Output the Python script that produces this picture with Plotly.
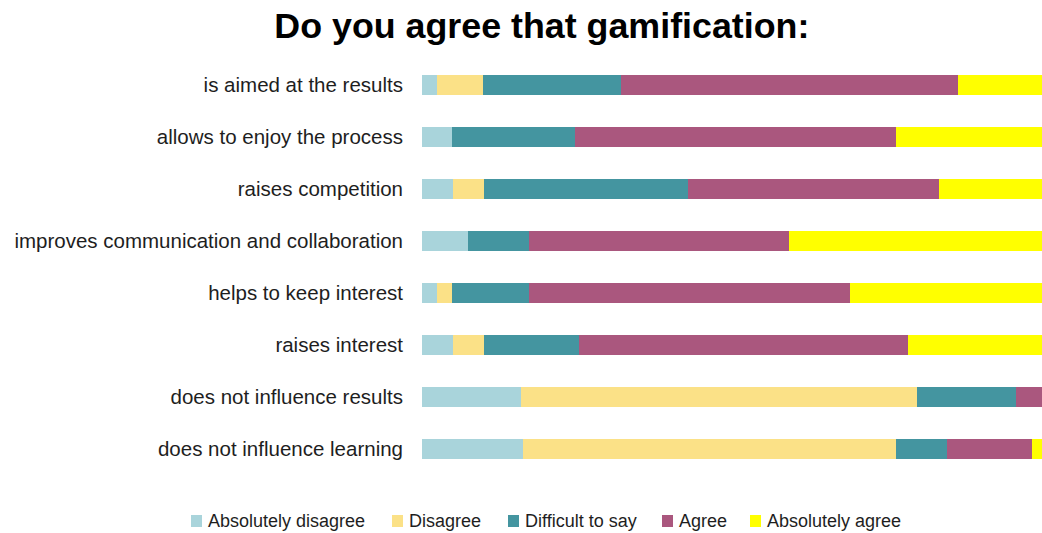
import plotly.graph_objects as go

# Survey statements (top to bottom)
statements = [
    "is aimed at the results",
    "allows to enjoy the process",
    "raises competition",
    "improves communication and collaboration",
    "helps to keep interest",
    "raises interest",
    "does not influence results",
    "does not influence learning",
]

# Share of answers per statement, in percent
absolutely_disagree = [2.4, 4.9, 5.0, 7.4, 2.4, 5.0, 16.0, 16.3]
disagree = [7.4, 0.0, 5.0, 0.0, 2.5, 5.0, 63.9, 60.2]
difficult_to_say = [22.3, 19.8, 32.9, 9.8, 12.4, 15.3, 15.9, 8.2]
agree = [54.3, 51.8, 40.5, 42.0, 51.8, 53.1, 4.2, 13.7]
absolutely_agree = [13.6, 23.5, 16.6, 40.8, 30.9, 21.6, 0.0, 1.6]

answer_names = ["Absolutely disagree", "Disagree", "Difficult to say",
                "Agree", "Absolutely agree"]
answer_values = [absolutely_disagree, disagree, difficult_to_say,
                 agree, absolutely_agree]
answer_colors = ["#A9D4DB", "#FBE187", "#4495A0", "#AA577E", "#FFFF00"]

W, H = 1042, 533
M_L, M_R, M_T, M_B = 422, 0, 59, 58
PLOT_W = W - M_L - M_R
PLOT_H = H - M_T - M_B

fig = go.Figure()
for name, values, color in zip(answer_names, answer_values, answer_colors):
    fig.add_trace(go.Bar(
        y=statements,
        x=values,
        name=name,
        orientation="h",
        marker=dict(color=color, line=dict(width=0)),
        showlegend=False,
    ))

# Single-row legend below the bars: small square swatch followed by its label
legend_left_px = [191, 392, 508, 662, 750]   # left edge of each swatch
legend_mid_px = 521                          # vertical centre of the row
swatch_px = 11
text_gap_px = 5

def px_to_paper_x(px):
    return (px - M_L) / PLOT_W

def px_to_paper_y(py):
    return (H - M_B - py) / PLOT_H

shapes = []
annotations = []
for left, name, color in zip(legend_left_px, answer_names, answer_colors):
    shapes.append(dict(
        type="rect", xref="paper", yref="paper",
        x0=px_to_paper_x(left), x1=px_to_paper_x(left + swatch_px),
        y0=px_to_paper_y(legend_mid_px + 6), y1=px_to_paper_y(legend_mid_px - 6),
        fillcolor=color, line=dict(width=0), layer="above",
    ))
    annotations.append(dict(
        text=name, xref="paper", yref="paper",
        x=px_to_paper_x(left + swatch_px + text_gap_px),
        y=px_to_paper_y(legend_mid_px),
        xanchor="left", yanchor="middle", showarrow=False,
        font=dict(size=18, color="#1e1e1e"),
        borderpad=0,
    ))

fig.update_layout(
    width=W,
    height=H,
    barmode="stack",
    bargap=0.6,
    plot_bgcolor="white",
    paper_bgcolor="white",
    font=dict(family="Liberation Sans, Arial, sans-serif", color="#1e1e1e"),
    margin=dict(l=M_L, r=M_R, t=M_T, b=M_B),
    title=dict(
        text="<b>Do you agree that gamification:</b>",
        font=dict(size=35.8, color="black"),
        xref="container", x=0.52, xanchor="center",
        yref="container", y=0.953, yanchor="middle",
    ),
    xaxis=dict(range=[0, 100], visible=False, fixedrange=True),
    yaxis=dict(
        autorange="reversed",
        showgrid=False,
        showline=False,
        zeroline=False,
        ticks="",
        ticklabelstandoff=18,
        tickfont=dict(size=20.5, color="#1e1e1e"),
    ),
    shapes=shapes,
    annotations=annotations,
    showlegend=False,
)

fig.write_html("out.html")
